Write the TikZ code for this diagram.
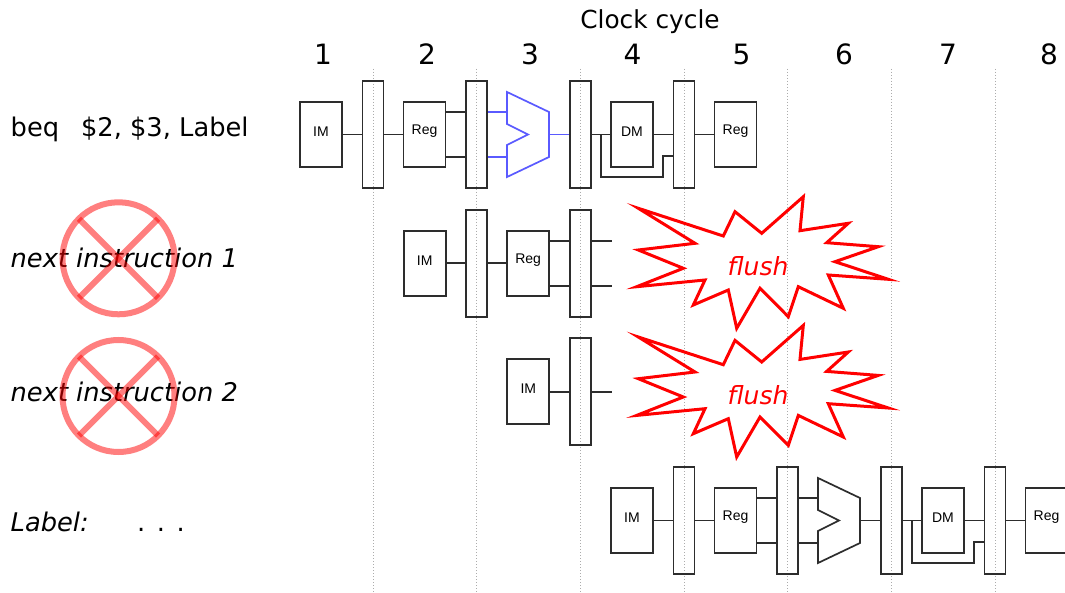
\documentclass[tikz,border=0pt]{standalone}
\usepackage{fontspec}
\setmainfont{DejaVu Sans}
\newfontfamily\boxfont{Liberation Sans}
\usetikzlibrary{calc}
\definecolor{alublue}{RGB}{90,90,255}
\definecolor{edge}{RGB}{45,45,45}
\tikzset{
  stagebox/.style={draw=edge, line width=1.7pt, minimum width=42pt, minimum height=65pt, inner sep=0pt},
  pipereg/.style={draw=edge, line width=1.7pt, minimum width=21pt, minimum height=107pt, inner sep=0pt},
  boxlbl/.style={font=\boxfont\fontsize{14}{16}\selectfont, inner sep=0pt},
  wire/.style={draw=edge, line width=1.7pt},
  alushape/.style={line width=1.7pt, line join=miter},
  gridln/.style={draw=gray!65, line width=0.9pt, dash pattern=on 1pt off 2pt},
  burst/.style={draw=red, line width=3pt, line join=miter, miter limit=20},
  flushtxt/.style={text=red, font=\fontsize{25}{30}\selectfont\itshape, inner sep=0pt},
  rowtxt/.style={font=\fontsize{25.7}{30}\selectfont, anchor=base west, inner sep=0pt},
  rowital/.style={font=\fontsize{25.7}{30}\selectfont\itshape, anchor=base west, inner sep=0pt},
  numtxt/.style={font=\fontsize{28}{32}\selectfont, anchor=base, inner sep=0pt},
  xmark/.style={draw=red, opacity=0.5, line width=6pt},
}
\newcommand{\fullrow}[2]{%
  \node[stagebox] (#1im) at (21,32.5) {};
  \node[boxlbl] (#1imt) at (21,29.5) {IM};
  \node[pipereg] (#1ra) at (73,32.5) {};
  \node[stagebox] (#1reg) at (124.5,32.5) {};
  \node[boxlbl] (#1regt) at (124.5,29.5) {Reg};
  \node[pipereg] (#1rb) at (176.7,32.5) {};
  \coordinate (#1in1) at (207,10);
  \coordinate (#1in2) at (207,55);
  \coordinate (#1out) at (249,32.5);
  \draw[alushape, #2] (207,-10) -- (249,10) -- (249,55) -- (207,75) -- (207,43) -- (228,32.5) -- (207,22) -- cycle;
  \node[pipereg] (#1rc) at (280.3,32.5) {};
  \node[stagebox] (#1dm) at (332,32.5) {};
  \node[boxlbl] (#1dmt) at (332,29.5) {DM};
  \node[pipereg] (#1rd) at (384,32.5) {};
  \node[stagebox] (#1wb) at (435.5,32.5) {};
  \node[boxlbl] (#1wbt) at (435.5,29.5) {Reg};
  \coordinate (#1b1) at (301,32.5);
  \coordinate (#1bc) at (363,75);
  \coordinate (#1b2) at (363,54);
  \draw[wire] (#1im) -- (#1ra);
  \draw[wire] (#1ra) -- (#1reg);
  \draw[wire] (#1reg.east |- #1in1) -- (#1rb.west |- #1in1);
  \draw[wire] (#1reg.east |- #1in2) -- (#1rb.west |- #1in2);
  \draw[wire, #2] (#1rb.east |- #1in1) -- (#1in1);
  \draw[wire, #2] (#1rb.east |- #1in2) -- (#1in2);
  \draw[wire, #2] (#1out) -- (#1rc.west |- #1out);
  \draw[wire] (#1rc) -- (#1dm);
  \draw[wire] (#1b1) |- (#1bc) -- (#1b2) -- (#1rd.west |- #1b2);
  \draw[wire] (#1dm) -- (#1rd);
  \draw[wire] (#1rd) -- (#1wb);
}
\newcommand{\burstshape}{%
  \draw[burst] (-119.7,-57.7) -- (-34.7,-30) -- (-23,-54.3) -- (3.7,-32.7) -- (45.3,-69.3) -- (42,-35.3)
    -- (90.3,-42.7) -- (68.7,-23.3) -- (120.3,-19.3) -- (77,-4.3) -- (130.3,13.3) -- (70.3,9)
    -- (85.3,42.3) -- (40.3,20.7) -- (30.3,50.7) -- (2,22.3) -- (-21.3,62.3) -- (-29.7,24)
    -- (-64.7,39) -- (-53,14) -- (-121.3,20.7) -- (-74.7,2.3) -- (-119.7,-16) -- (-63,-22.7) -- cycle;
}
\begin{document}
\begin{tikzpicture}[x=1pt, y=-1pt]
\useasboundingbox (0,0) rectangle (1065,593);
\fill[white] (0,0) rectangle (1065,593);

% grid lines
\foreach \k in {0,...,6} {
  \draw[gridln] ({373+103.67*\k},69) -- ({373+103.67*\k},593);
}

% header
\node[font=\fontsize{24.8}{28}\selectfont, anchor=base, inner sep=0pt] (clock) at (650,28.3) {Clock cycle};
\node[numtxt] (n1) at (323,65) {1};
\node[numtxt] (n2) at (427,65) {2};
\node[numtxt] (n3) at (530,65) {3};
\node[numtxt] (n4) at (632.5,65) {4};
\node[numtxt] (n5) at (741.5,65) {5};
\node[numtxt] (n6) at (844,65) {6};
\node[numtxt] (n7) at (948,65) {7};
\node[numtxt] (n8) at (1049,65) {8};

% row labels
\node[rowtxt] (t1) at (10.5,137) {beq\hspace{22pt}\$2, \$3, Label};
\node[rowital] (t2) at (10.5,268) {next instruction 1};
\node[rowital] (t3) at (10.5,401) {next instruction 2};
\node[rowital] (t4) at (10.5,531.7) {Label:};
\node[rowtxt] (t4d) at (137,531.7) {.\hspace{11.5pt}.\hspace{11.5pt}.};

% row 1
\begin{scope}[shift={(300,102)}]
  \fullrow{p}{alublue}
\end{scope}

% row 2
\begin{scope}[shift={(403.67,230.7)}]
  \node[stagebox] (qim) at (21,32.5) {};
  \node[boxlbl] (qimt) at (21,29.5) {IM};
  \node[pipereg] (qra) at (73,32.5) {};
  \node[stagebox] (qreg) at (124.5,32.5) {};
  \node[boxlbl] (qregt) at (124.5,29.5) {Reg};
  \node[pipereg] (qrb) at (176.7,32.5) {};
  \coordinate (qs1) at (208.5,10);
  \coordinate (qs2) at (208.5,55);
  \draw[wire] (qim) -- (qra);
  \draw[wire] (qra) -- (qreg);
  \draw[wire] (qreg.east |- qs1) -- (qrb.west |- qs1);
  \draw[wire] (qreg.east |- qs2) -- (qrb.west |- qs2);
  \draw[wire] (qrb.east |- qs1) -- (qs1);
  \draw[wire] (qrb.east |- qs2) -- (qs2);
\end{scope}

% row 3
\begin{scope}[shift={(507.33,359.3)}]
  \node[stagebox] (rim) at (21,32.5) {};
  \node[boxlbl] (rimt) at (21,29.5) {IM};
  \node[pipereg] (rra) at (73,32.5) {};
  \coordinate (rs) at (104.8,32.5);
  \draw[wire] (rim) -- (rra);
  \draw[wire] (rra.east) -- (rs);
\end{scope}

% row 4
\begin{scope}[shift={(611,488)}]
  \fullrow{s}{edge}
\end{scope}

% flush bursts
\begin{scope}[shift={(758,266)}]
  \burstshape
  \node[flushtxt] (f1) at (0,0) {flush};
\end{scope}
\begin{scope}[shift={(758,394.7)}]
  \burstshape
  \node[flushtxt] (f2) at (0,0) {flush};
\end{scope}

% crossed circles
\coordinate (c1) at (118.5,258.3);
\coordinate (c2) at (118.5,396);
\foreach \c in {c1,c2} {
  \draw[xmark] (\c) circle [radius=56pt];
  \draw[xmark] ($(\c)+(-39.6,-39.6)$) -- ($(\c)+(39.6,39.6)$);
  \draw[xmark] ($(\c)+(39.6,-39.6)$) -- ($(\c)+(-39.6,39.6)$);
}
\end{tikzpicture}
\end{document}
